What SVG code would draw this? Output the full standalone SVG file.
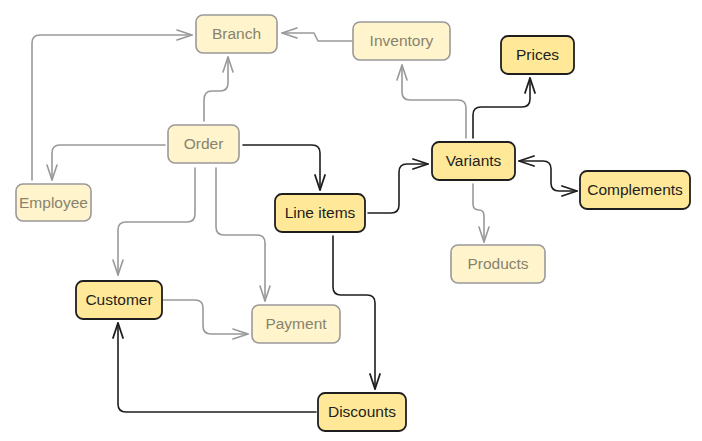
<svg xmlns="http://www.w3.org/2000/svg" width="702" height="441" viewBox="0 0 702 441">
<defs>
<marker id="ag" markerUnits="userSpaceOnUse" markerWidth="18" markerHeight="12" refX="16" refY="6" orient="auto-start-reverse" viewBox="0 0 18 12">
<path d="M1,1 L16,6 L1,11" fill="none" stroke="#999" stroke-width="1.6" stroke-linecap="round" stroke-linejoin="round"/>
</marker>
<marker id="ad" markerUnits="userSpaceOnUse" markerWidth="18" markerHeight="12" refX="16" refY="6" orient="auto-start-reverse" viewBox="0 0 18 12">
<path d="M1,1 L16,6 L1,11" fill="none" stroke="#1e1e1e" stroke-width="1.8" stroke-linecap="round" stroke-linejoin="round"/>
</marker>
<style>
.f rect{fill:#fff4cc;stroke:#999;stroke-width:1.6}
.f text{fill:#87836f}
.b rect{fill:#ffe999;stroke:#1e1e1e;stroke-width:1.8}
.b text{fill:#1e1e1e}
text{font-family:"Liberation Sans",Arial,sans-serif;font-size:15.5px;text-anchor:middle}
.cg{fill:none;stroke:#999;stroke-width:1.6;stroke-linecap:round;stroke-linejoin:round;marker-end:url(#ag)}
.cd{fill:none;stroke:#1e1e1e;stroke-width:1.6;stroke-linecap:round;stroke-linejoin:round;marker-end:url(#ad)}
</style>
</defs>
<rect width="702" height="441" fill="#fff"/>
<g id="connectors">
<path class="cg" d="M32,180 V43 Q32,35 40,35 H192"/>
<path class="cg" d="M352,41 H318 L314,33 H282"/>
<path class="cg" d="M204,121 V100 Q204,91 212,91 H220 Q228,91 228,83 V57"/>
<path class="cg" d="M165,145 H60 Q52,145 52,153 V180"/>
<path class="cd" d="M243,145 H312 Q320,145 320,153 V190"/>
<path class="cg" d="M195,168 V214 Q195,222 187,222 H126 Q118,222 118,230 V275"/>
<path class="cg" d="M216,168 V227 Q216,235 224,235 H257 Q265,235 265,243 V301"/>
<path class="cg" d="M162,300 H195 Q203,300 203,308 V326 Q203,334 211,334 H248"/>
<path class="cd" d="M316,412 H126 Q118,412 118,404 V323"/>
<path class="cd" d="M333,236 V287 Q333,295 341,295 H367 Q375,295 375,303 V389"/>
<path class="cd" d="M368,213 H391 Q399,213 399,205 V172 Q399,164 407,164 H428"/>
<path class="cg" d="M466,138 V108 Q466,100 458,100 H410 Q402,100 402,92 V65"/>
<path class="cd" d="M473,138 V115 Q473,107 481,107 H522 Q530,107 530,99 V78"/>
<path class="cd" d="M519,161 H543 Q551,161 551,169 V183 Q551,191 559,191 H577" marker-start="url(#ad)"/>
<path class="cg" d="M473,184 V204 Q473,210 479,210 Q484,210 484,216 V242"/>
</g>
<g id="branch" class="f"><rect x="196" y="15" width="81" height="38" rx="7"/><text x="236.5" y="39">Branch</text></g>
<g id="inventory" class="f"><rect x="353" y="22" width="97" height="38" rx="7"/><text x="401.5" y="46">Inventory</text></g>
<g id="order" class="f"><rect x="168" y="125" width="71" height="38" rx="7"/><text x="203.5" y="149">Order</text></g>
<g id="employee" class="f"><rect x="16" y="184" width="75" height="37" rx="7"/><text x="53.5" y="208">Employee</text></g>
<g id="products" class="f"><rect x="451" y="245" width="94" height="38" rx="7"/><text x="498" y="269">Products</text></g>
<g id="payment" class="f"><rect x="252" y="305" width="88" height="38" rx="7"/><text x="296" y="329">Payment</text></g>
<g id="lineitems" class="b"><rect x="275" y="194" width="90" height="38" rx="7"/><text x="320" y="218">Line items</text></g>
<g id="variants" class="b"><rect x="432" y="142" width="83" height="38" rx="7"/><text x="473.5" y="166">Variants</text></g>
<g id="prices" class="b"><rect x="501" y="36" width="73" height="38" rx="7"/><text x="537.5" y="60">Prices</text></g>
<g id="complements" class="b"><rect x="580" y="171" width="110" height="38" rx="7"/><text x="635" y="195">Complements</text></g>
<g id="customer" class="b"><rect x="76" y="281" width="86" height="38" rx="7"/><text x="119" y="305">Customer</text></g>
<g id="discounts" class="b"><rect x="318" y="393" width="88" height="38" rx="7"/><text x="362" y="417">Discounts</text></g>
</svg>
